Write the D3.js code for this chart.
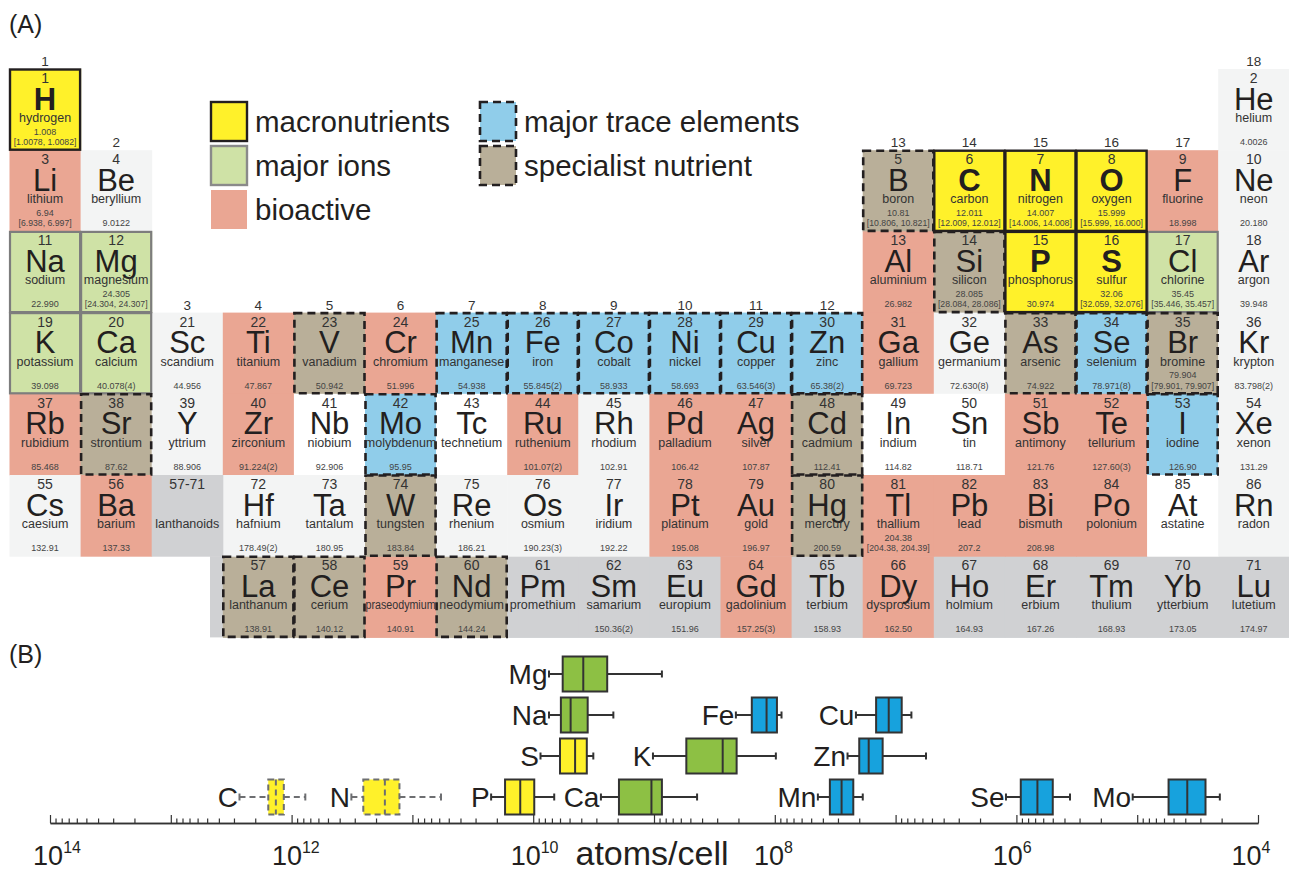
<!DOCTYPE html>
<html>
<head>
<meta charset="utf-8">
<script src="https://cdn.jsdelivr.net/npm/d3@7/dist/d3.min.js"></script>
<style>
  body { margin: 0; background: #fff; }
  svg { display: block; font-family: "Liberation Sans", Arial, Helvetica, sans-serif; }
</style>
</head>
<body>
<svg id="chart" width="1289" height="873"></svg>
<script>
// ---- panel A data: elements by atomic number (1..86) ----
var symbols = ["H","He","Li","Be","B","C","N","O","F","Ne","Na","Mg","Al","Si","P","S","Cl","Ar",
  "K","Ca","Sc","Ti","V","Cr","Mn","Fe","Co","Ni","Cu","Zn","Ga","Ge","As","Se","Br","Kr",
  "Rb","Sr","Y","Zr","Nb","Mo","Tc","Ru","Rh","Pd","Ag","Cd","In","Sn","Sb","Te","I","Xe",
  "Cs","Ba","La","Ce","Pr","Nd","Pm","Sm","Eu","Gd","Tb","Dy","Ho","Er","Tm","Yb","Lu",
  "Hf","Ta","W","Re","Os","Ir","Pt","Au","Hg","Tl","Pb","Bi","Po","At","Rn"];

var names = ["hydrogen","helium","lithium","beryllium","boron","carbon","nitrogen","oxygen","fluorine","neon",
  "sodium","magnesium","aluminium","silicon","phosphorus","sulfur","chlorine","argon",
  "potassium","calcium","scandium","titanium","vanadium","chromium","manganese","iron","cobalt","nickel",
  "copper","zinc","gallium","germanium","arsenic","selenium","bromine","krypton",
  "rubidium","strontium","yttrium","zirconium","niobium","molybdenum","technetium","ruthenium","rhodium",
  "palladium","silver","cadmium","indium","tin","antimony","tellurium","iodine","xenon",
  "caesium","barium","lanthanum","cerium","praseodymium","neodymium","promethium","samarium","europium",
  "gadolinium","terbium","dysprosium","holmium","erbium","thulium","ytterbium","lutetium",
  "hafnium","tantalum","tungsten","rhenium","osmium","iridium","platinum","gold","mercury",
  "thallium","lead","bismuth","polonium","astatine","radon"];

var weights = ["1.008","4.0026","6.94","9.0122","10.81","12.011","14.007","15.999","18.998","20.180",
  "22.990","24.305","26.982","28.085","30.974","32.06","35.45","39.948",
  "39.098","40.078(4)","44.956","47.867","50.942","51.996","54.938","55.845(2)","58.933","58.693",
  "63.546(3)","65.38(2)","69.723","72.630(8)","74.922","78.971(8)","79.904","83.798(2)",
  "85.468","87.62","88.906","91.224(2)","92.906","95.95","","101.07(2)","102.91",
  "106.42","107.87","112.41","114.82","118.71","121.76","127.60(3)","126.90","131.29",
  "132.91","137.33","138.91","140.12","140.91","144.24","","150.36(2)","151.96",
  "157.25(3)","158.93","162.50","164.93","167.26","168.93","173.05","174.97",
  "178.49(2)","180.95","183.84","186.21","190.23(3)","192.22","195.08","196.97","200.59",
  "204.38","207.2","208.98","","",""];

var intervals = {
  "H": "[1.0078, 1.0082]", "Li": "[6.938, 6.997]", "B": "[10.806, 10.821]",
  "C": "[12.009, 12.012]", "N": "[14.006, 14.008]", "O": "[15.999, 16.000]",
  "Mg": "[24.304, 24.307]", "Si": "[28.084, 28.086]", "S": "[32.059, 32.076]",
  "Cl": "[35.446, 35.457]", "Br": "[79.901, 79.907]", "Tl": "[204.38, 204.39]"
};

var macronutrients = ["H","C","N","O","P","S"];
var majorIons = ["Na","Mg","Cl","K","Ca"];
var bioactive = ["Li","F","Al","Ti","Cr","Ga","Rb","Zr","Ru","Pd","Ag","Sb","Te",
  "Ba","Pt","Au","Tl","Pb","Bi","Po","Pr","Gd","Dy"];
var majorTrace = ["Mn","Fe","Co","Ni","Cu","Zn","Se","Mo","I"];
var specialist = ["B","Si","V","As","Br","Sr","Cd","W","Hg","La","Ce","Nd"];
var whiteCells = ["Nb","Tc","In","Sn","At"];

var legendLabels = ["macronutrients","major ions","bioactive","major trace elements","specialist nutrient"];

// ---- panel B data: atoms per cell ----
var boxElements = ["Mg","Na","Fe","Cu","S","K","Zn","C","N","P","Ca","Mn","Se","Mo"];
var boxLane     = [0, 1, 1, 1, 2, 2, 2, 3, 3, 3, 3, 3, 3, 3];
var boxKind     = ["ion","ion","trace","trace","macro","ion","trace","macro","macro","macro","ion","trace","trace","trace"];
var boxMax    = [7.4e9, 7.4e9, 2.1e8,  2.13e7, 8.7e9, 1.02e9, 2.5e7,  2.7e12,  3.2e11,  2.23e10, 2.75e9, 4.4e7,  1.22e6, 1.09e5];
var boxQ3     = [5.7e9, 5.9e9, 1.55e8, 1.45e7, 6.0e9, 5.4e8,  2.0e7,  1.56e12, 2.55e11, 1.71e10, 1.95e9, 3.5e7,  9.2e5,  5.5e4];
var boxMedian = [3.85e9,4.9e9, 1.17e8, 1.14e7, 4.5e9, 2.7e8,  1.67e7, 1.35e12, 1.69e11, 1.28e10, 1.05e9, 2.8e7,  6.7e5,  3.85e4];
var boxQ1     = [2.44e9,3.54e9,9.6e7,  8.9e6,  3.6e9, 2.07e8, 1.28e7, 1.16e12, 1.28e11, 9.8e9,   8.6e8,  2.24e7, 5.0e5,  2.72e4];
var boxMin    = [8.6e8, 2.17e9,8.8e7,  7.4e6,  3.18e9,9.8e7,  5.6e6,  7.7e11,  5.8e10,  6.7e9,   4.4e8,  1.87e7, 3.6e5,  2.07e4];
var dashedBoxes = ["C","N"];

var decadeTicks = [1e14, 1e13, 1e12, 1e11, 1e10, 1e9, 1e8, 1e7, 1e6, 1e5, 1e4];
var labelExponents = [14, 12, 10, 8, 6, 4];

// ---- styling ----
var ink = "#231f20";
var fills = {
  macro: "#fff12a", ion: "#cfe2a6", bio: "#eaa693", trace: "#90cdea",
  spec: "#b9af99", other: "#f3f4f4", white: "#ffffff", lan: "#d0d1d3"
};
var boxFills = { macro: "#fff12a", ion: "#8dc044", trace: "#17a2dd" };

var svg = d3.select("#chart");

function category(sym) {
  if (macronutrients.indexOf(sym) >= 0) return "macro";
  if (majorIons.indexOf(sym) >= 0) return "ion";
  if (bioactive.indexOf(sym) >= 0) return "bio";
  if (majorTrace.indexOf(sym) >= 0) return "trace";
  if (specialist.indexOf(sym) >= 0) return "spec";
  return null;
}

// group (column) and display row of an atomic number
function place(z) {
  if (z === 1) return [1, 1];
  if (z === 2) return [18, 1];
  if (z <= 18) {
    var p = z <= 10 ? 2 : 3, s = z - (p === 2 ? 2 : 10);
    return [s <= 2 ? s : s + 10, p];
  }
  if (z <= 36) return [z - 18, 4];
  if (z <= 54) return [z - 36, 5];
  if (z <= 56) return [z - 54, 6];
  if (z <= 71) return [z - 53, 7];
  return [z - 68, 6];
}

var col = d3.scaleBand().domain(d3.range(1, 19)).range([9.5, 1289.3]);
var row = d3.scaleBand().domain(d3.range(1, 8)).range([69, 637.4]);
var cw = col.bandwidth(), ch = row.bandwidth();

var cells = symbols.map(function(s, i) {
  var p = place(i + 1);
  var cat = category(s);
  var fill;
  if (cat) fill = fills[cat];
  else if (i + 1 >= 57 && i + 1 <= 71) fill = fills.lan;
  else if (whiteCells.indexOf(s) >= 0) fill = fills.white;
  else fill = fills.other;
  return { z: i + 1, sym: s, name: names[i], w: weights[i], iv: intervals[s],
           g: p[0], r: p[1], cat: cat, fill: fill };
});
// lanthanoid placeholder in period 6
cells.push({ z: "57-71", sym: "", name: "lanthanoids", w: "", g: 3, r: 6, cat: null, fill: fills.lan });

// (A) label
svg.append("text").attr("x", 9).attr("y", 33).attr("font-size", 25).attr("fill", ink).text("(A)");

var table = svg.append("g");

// lanthanoid strip
table.append("rect")
  .attr("x", 210).attr("y", row(7))
  .attr("width", col(18) + cw - 210).attr("height", ch)
  .attr("fill", fills.lan);

table.selectAll("rect.cell").data(cells).enter().append("rect")
  .attr("class", "cell")
  .attr("x", function(d) { return col(d.g); })
  .attr("y", function(d) { return row(d.r); })
  .attr("width", cw + 0.5).attr("height", ch + 0.5)
  .attr("fill", function(d) { return d.fill; });

// group numbers above the first cell of each column
var groupTopRow = d3.range(1, 19).map(function(g) {
  return d3.min(cells.filter(function(d) { return d.g === g && d.r < 7; }), function(d) { return d.r; });
});
table.selectAll("text.group").data(d3.range(1, 19)).enter().append("text")
  .attr("class", "group")
  .attr("x", function(g) { return col(g) + cw / 2; })
  .attr("y", function(g) { return row(groupTopRow[g - 1]) - 3; })
  .attr("text-anchor", "middle").attr("font-size", 13.5).attr("fill", "#333")
  .text(function(g) { return g; });

// borders: grey ion first, then dashed, then black macro
function border(list, stroke, width, dash) {
  table.selectAll(null).data(cells.filter(function(d) { return list.indexOf(d.sym) >= 0; }))
    .enter().append("rect")
    .attr("x", function(d) { return col(d.g) + 0.5; })
    .attr("y", function(d) { return row(d.r) + 0.5; })
    .attr("width", cw - 1).attr("height", ch - 1)
    .attr("fill", "none").attr("stroke", stroke).attr("stroke-width", width)
    .attr("stroke-dasharray", dash);
}
border(majorIons, "#7d7d7d", 2.2, null);
border(majorTrace.concat(specialist), ink, 2.6, "8,5");
border(macronutrients, ink, 2.4, null);

var txt = table.selectAll("g.label").data(cells).enter().append("g")
  .attr("class", "label")
  .attr("transform", function(d) { return "translate(" + (col(d.g) + cw / 2) + "," + row(d.r) + ")"; })
  .attr("text-anchor", "middle");

txt.append("text").attr("y", 14).attr("font-size", 14).attr("fill", "#333")
  .text(function(d) { return d.z; });
txt.append("text").attr("y", 40.5).attr("font-size", 31).attr("fill", ink)
  .attr("font-weight", function(d) { return d.cat === "macro" ? "bold" : null; })
  .text(function(d) { return d.sym; });
txt.append("text").attr("y", 53).attr("font-size", 12.5).attr("fill", "#333")
  .attr("textLength", function(d) { return d.name.length > 11 ? cw - 1 : null; })
  .attr("lengthAdjust", "spacingAndGlyphs")
  .text(function(d) { return d.name; });
txt.append("text").attr("y", function(d) { return d.iv ? 65.5 : 76; })
  .attr("font-size", 9).attr("fill", "#444")
  .text(function(d) { return d.w; });
txt.append("text").attr("y", 76).attr("font-size", 8.7).attr("fill", "#444")
  .text(function(d) { return d.iv || ""; });

// legend
var legend = svg.append("g");
var legendKinds = ["macro", "ion", "bio", "trace", "spec"];
var legendX = [211, 211, 211, 480, 480];
var legendRow = [0, 1, 2, 0, 1];
legendLabels.forEach(function(label, i) {
  var k = legendKinds[i];
  var y0 = 102 + legendRow[i] * 44;
  legend.append("rect")
    .attr("x", legendX[i]).attr("y", y0).attr("width", 36).attr("height", 39)
    .attr("fill", fills[k])
    .attr("stroke", k === "macro" ? ink : k === "ion" ? "#8a8a8a" : (k === "bio" ? "none" : ink))
    .attr("stroke-width", k === "trace" || k === "spec" ? 2.6 : 2.4)
    .attr("stroke-dasharray", k === "trace" || k === "spec" ? "8,5" : null);
  legend.append("text")
    .attr("x", legendX[i] + 44).attr("y", y0 + 30)
    .attr("font-size", 29.5).attr("fill", ink)
    .text(label);
});

// ---- panel B ----
svg.append("text").attr("x", 9).attr("y", 663).attr("font-size", 25).attr("fill", ink).text("(B)");

var x = d3.scaleLog().domain([1e14, 1e4]).range([50, 1258]);
var lane = d3.scalePoint().domain([0, 1, 2, 3]).range([674, 797]);
var axisY = 823, boxH = 35;

var minorTicks = [];
decadeTicks.slice(1).forEach(function(d) {
  for (var m = 2; m <= 9; m++) minorTicks.push(d * m);
});

var axisG = svg.append("g").attr("transform", "translate(0," + axisY + ")");
axisG.call(d3.axisBottom(x).tickValues(minorTicks).tickSizeInner(-4.5).tickSizeOuter(0).tickFormat(""));
axisG.append("g").call(d3.axisBottom(x).tickValues(decadeTicks).tickSizeInner(-8).tickSizeOuter(0).tickFormat(""));
axisG.selectAll("path.domain").attr("stroke", "#333").attr("stroke-width", 1.6);
axisG.selectAll(".tick line").attr("stroke", "#333").attr("stroke-width", 1.2);

var tickLabels = svg.append("g").selectAll("text").data(labelExponents).enter().append("text")
  .attr("x", function(e) { return x(Math.pow(10, e)) + (e - 9) * 1.4; })
  .attr("y", 865)
  .attr("text-anchor", "middle").attr("fill", ink).attr("font-size", 27);
tickLabels.append("tspan").text("10");
tickLabels.append("tspan").attr("dy", -12).attr("font-size", 16).text(function(e) { return e; });

svg.append("text").attr("x", 652).attr("y", 865).attr("text-anchor", "middle")
  .attr("font-size", 34).attr("fill", ink).text("atoms/cell");

var boxes = svg.append("g").selectAll("g").data(boxElements).enter().append("g")
  .attr("transform", function(d, i) { return "translate(0," + lane(boxLane[i]) + ")"; });

boxes.each(function(sym, i) {
  var g = d3.select(this);
  var dashed = dashedBoxes.indexOf(sym) >= 0;
  var stroke = dashed ? "#6d6e71" : "#333";
  var dash = dashed ? "6,4" : null;
  var hi = x(boxMax[i]), q3 = x(boxQ3[i]), md = x(boxMedian[i]), q1 = x(boxQ1[i]), lo = x(boxMin[i]);

  g.append("line").attr("x1", hi).attr("x2", q3).attr("y1", 0).attr("y2", 0);
  g.append("line").attr("x1", q1).attr("x2", lo).attr("y1", 0).attr("y2", 0);
  g.selectAll("line").attr("stroke", stroke).attr("stroke-width", 2).attr("stroke-dasharray", dash);
  [hi, lo].forEach(function(cx) {
    g.append("line").attr("x1", cx).attr("x2", cx).attr("y1", -3.5).attr("y2", 3.5)
      .attr("stroke", stroke).attr("stroke-width", 2);
  });
  g.append("rect")
    .attr("x", q3).attr("y", -boxH / 2).attr("width", q1 - q3).attr("height", boxH)
    .attr("fill", boxFills[boxKind[i]])
    .attr("stroke", stroke).attr("stroke-width", 2).attr("stroke-dasharray", dash);
  g.append("line").attr("x1", md).attr("x2", md).attr("y1", -boxH / 2).attr("y2", boxH / 2)
    .attr("stroke", stroke).attr("stroke-width", 2).attr("stroke-dasharray", dash);
  g.append("text").attr("x", hi - 1.5).attr("y", 10)
    .attr("text-anchor", "end").attr("font-size", 28).attr("fill", ink)
    .text(sym);
});
</script>
</body>
</html>
